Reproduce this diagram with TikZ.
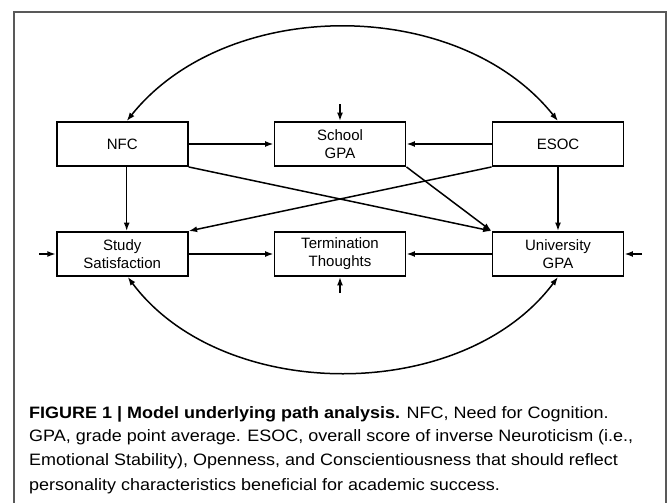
\documentclass[tikz,border=0pt]{standalone}
\usepackage{fontspec}
\setmainfont{Liberation Sans}
\newfontfamily\capfont{Liberation Sans}[FakeStretch=1.09]
\usetikzlibrary{arrows.meta}
\tikzset{
  varbox/.style={draw, line width=1.9pt, minimum width=131pt, minimum height=44pt, inner sep=0pt, align=center, font=\fontsize{15}{18}\selectfont},
  arr/.style={line width=1.5pt, -{Latex[length=8.5pt,width=6pt]}},
  arrboth/.style={line width=1.5pt, {Latex[length=8.5pt,width=6pt]}-{Latex[length=8.5pt,width=6pt]}},
  capline/.style={anchor=base west, inner sep=0pt, font=\capfont\fontsize{16.5}{24}\selectfont},
  frameline/.style={draw=black!65, line width=1.1pt}
}
\begin{document}
\begin{tikzpicture}[x=1pt,y=-1pt]
\useasboundingbox (0,0) rectangle (669,503);
\draw[frameline] (14,503) -- (14,12) -- (666,12) -- (666,503);

\node[varbox] (nfc) at (122.2,144) {NFC};
\node[varbox] (school) at (340,144) {School\\GPA};
\node[varbox] (esoc) at (558,144) {ESOC};
\node[varbox] (study) at (122.2,254) {Study\\Satisfaction};
\node[varbox] (term) at (340,254) {Termination\\Thoughts};
\node[varbox] (univ) at (558,254) {University\\GPA};

\coordinate (sgin) at (340,104);
\coordinate (ttin) at (340,293);
\coordinate (ssin) at (39,254);
\coordinate (ugin) at (642,254);

\draw[arr] (nfc) -- (school);
\draw[arr] (esoc) -- (school);
\draw[arr] ([xshift=4.5pt]nfc.south) -- ([xshift=4.5pt]study.north);
\draw[arr] (esoc.south) -- (univ.north);
\draw[arr] (nfc.south east) -- (univ.north west);
\draw[arr] (school.south east) -- (univ.north west);
\draw[arr] (esoc.south west) -- (study.north east);
\draw[arr] (study) -- (term);
\draw[arr] (univ) -- (term);

\draw[arr] (sgin) -- (school.north);
\draw[arr] (ttin) -- (term.south);
\draw[arr] (ssin) -- (study.west);
\draw[arr] (ugin) -- (univ.east);

\draw[arrboth] ([xshift=4.5pt]nfc.north) .. controls +(100,-125) and +(-100,-125) .. (esoc.north);
\draw[arrboth] ([xshift=5.5pt]study.south) .. controls +(95,127) and +(-95,127) .. (univ.south);

\node[capline] (cap1) at (29,418) {\textbf{FIGURE 1 | Model underlying path analysis.} NFC, Need for Cognition.};
\node[capline] (cap2) at (29,441) {GPA, grade point average. ESOC, overall score of inverse Neuroticism (i.e.,};
\node[capline] (cap3) at (29,465) {Emotional Stability), Openness, and Conscientiousness that should reflect};
\node[capline] (cap4) at (29,490) {personality characteristics beneficial for academic success.};
\end{tikzpicture}
\end{document}
